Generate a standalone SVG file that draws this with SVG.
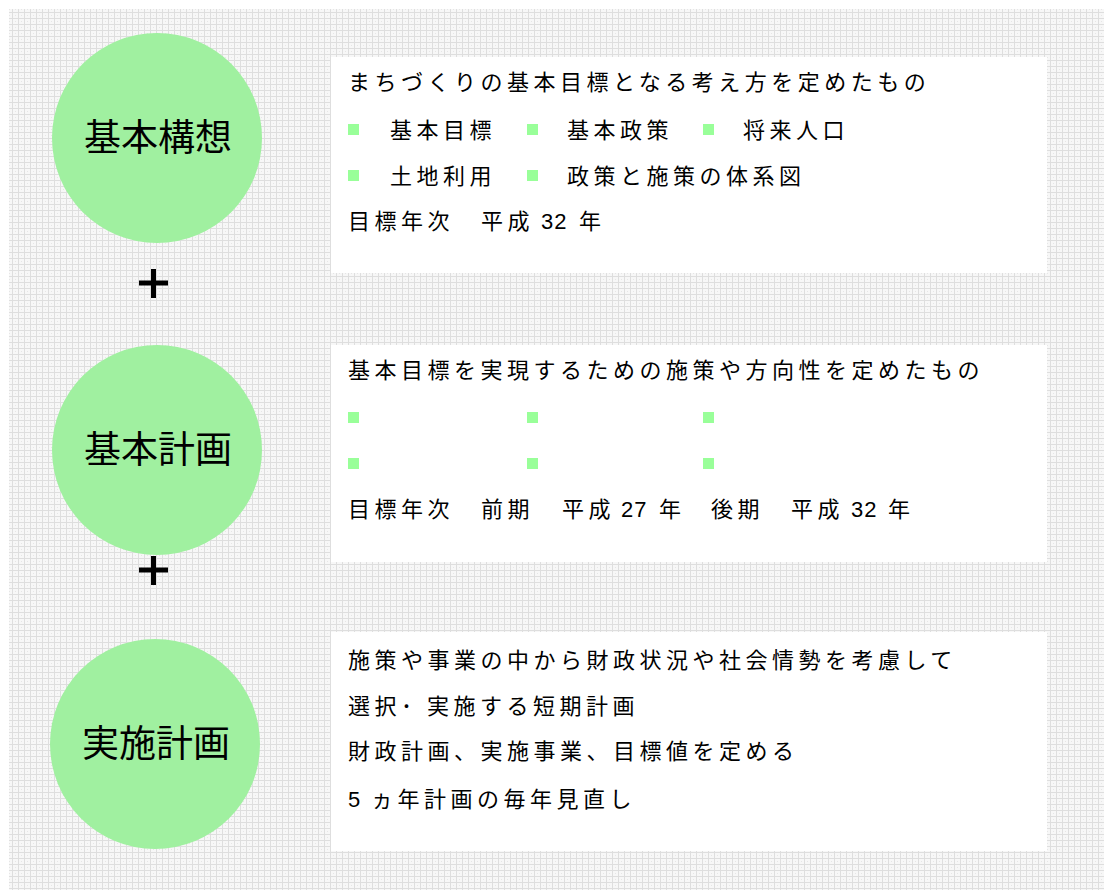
<svg xmlns="http://www.w3.org/2000/svg" width="1104" height="890" viewBox="0 0 1104 890">
<style>
.c{fill:#a0f0a0}
.lbl{font-family:"Liberation Sans","Noto Sans CJK JP",sans-serif;font-size:37px;fill:#000;text-anchor:middle}
.t{font-family:"Liberation Sans","Noto Sans CJK JP",sans-serif;font-size:22px;fill:#000;letter-spacing:4.5px}
.n{letter-spacing:1px}
.box{fill:#fff}
.sq{fill:#99ff99}
.plus{stroke:#000;stroke-width:5;fill:none}
</style>
<defs>
<pattern id="grid" width="6" height="6" patternUnits="userSpaceOnUse">
<rect width="6" height="6" fill="#f7f7f7"/>
<rect x="0" y="0" width="6" height="1" fill="#dedede"/>
<rect x="0" y="0" width="1" height="6" fill="#dedede"/>
<rect x="3" y="3" width="1" height="1" fill="#e6e6e6"/>
</pattern>
</defs>
<rect x="0" y="0" width="1104" height="890" fill="#fff"/>
<rect x="9" y="9" width="1095" height="881" fill="url(#grid)"/>

<g id="node-kihonkoso">
<circle class="c" cx="157" cy="138" r="105"/>
<text class="lbl" x="158" y="151">基本構想</text>
</g>
<g id="node-kihonkeikaku">
<circle class="c" cx="157" cy="450" r="105"/>
<text class="lbl" x="158" y="463">基本計画</text>
</g>
<g id="node-jisshikeikaku">
<circle class="c" cx="155" cy="744" r="105"/>
<text class="lbl" x="156" y="757">実施計画</text>
</g>

<g id="connectors">
<path class="plus" d="M139 283H168M153.5 269V298"/>
<path class="plus" d="M139 570H168M153.5 556V585"/>
</g>

<g id="box-kihonkoso">
<rect class="box" x="331" y="57" width="716" height="216"/>
<text class="t" x="348" y="90">まちづくりの基本目標となる考え方を定めたもの</text>
<rect class="sq" x="348" y="124" width="11" height="11"/>
<text class="t" x="390" y="138">基本目標</text>
<rect class="sq" x="527" y="124" width="11" height="11"/>
<text class="t" x="567" y="138">基本政策</text>
<rect class="sq" x="703" y="124" width="11" height="11"/>
<text class="t" x="743" y="138">将来人口</text>
<rect class="sq" x="348" y="170" width="11" height="11"/>
<text class="t" x="390" y="184">土地利用</text>
<rect class="sq" x="527" y="170" width="11" height="11"/>
<text class="t" x="567" y="184">政策と施策の体系図</text>
<text class="t" x="348" y="229">目標年次</text>
<text class="t" x="481" y="229">平成</text>
<text class="t n" x="541" y="229">32</text>
<text class="t" x="579" y="229">年</text>
</g>

<g id="box-kihonkeikaku">
<rect class="box" x="331" y="345" width="716" height="217"/>
<text class="t" x="348" y="378">基本目標を実現するための施策や方向性を定めたもの</text>
<rect class="sq" x="348" y="412" width="11" height="11"/>
<rect class="sq" x="527" y="412" width="11" height="11"/>
<rect class="sq" x="703" y="412" width="11" height="11"/>
<rect class="sq" x="348" y="458" width="11" height="11"/>
<rect class="sq" x="527" y="458" width="11" height="11"/>
<rect class="sq" x="703" y="458" width="11" height="11"/>
<text class="t" x="348" y="517">目標年次</text>
<text class="t" x="481" y="517">前期</text>
<text class="t" x="562" y="517">平成</text>
<text class="t n" x="621" y="517">27</text>
<text class="t" x="659" y="517">年</text>
<text class="t" x="711" y="517">後期</text>
<text class="t" x="791" y="517">平成</text>
<text class="t n" x="851" y="517">32</text>
<text class="t" x="888" y="517">年</text>
</g>

<g id="box-jisshikeikaku">
<rect class="box" x="331" y="632" width="716" height="219"/>
<text class="t" x="348" y="668">施策や事業の中から財政状況や社会情勢を考慮して</text>
<text class="t" x="348" y="714">選択･ 実施する短期計画</text>
<text class="t" x="348" y="759">財政計画、実施事業、目標値を定める</text>
<text class="t" x="348" y="807">5</text>
<text class="t" x="371" y="807">ヵ年計画の毎年見直し</text>
</g>
</svg>
